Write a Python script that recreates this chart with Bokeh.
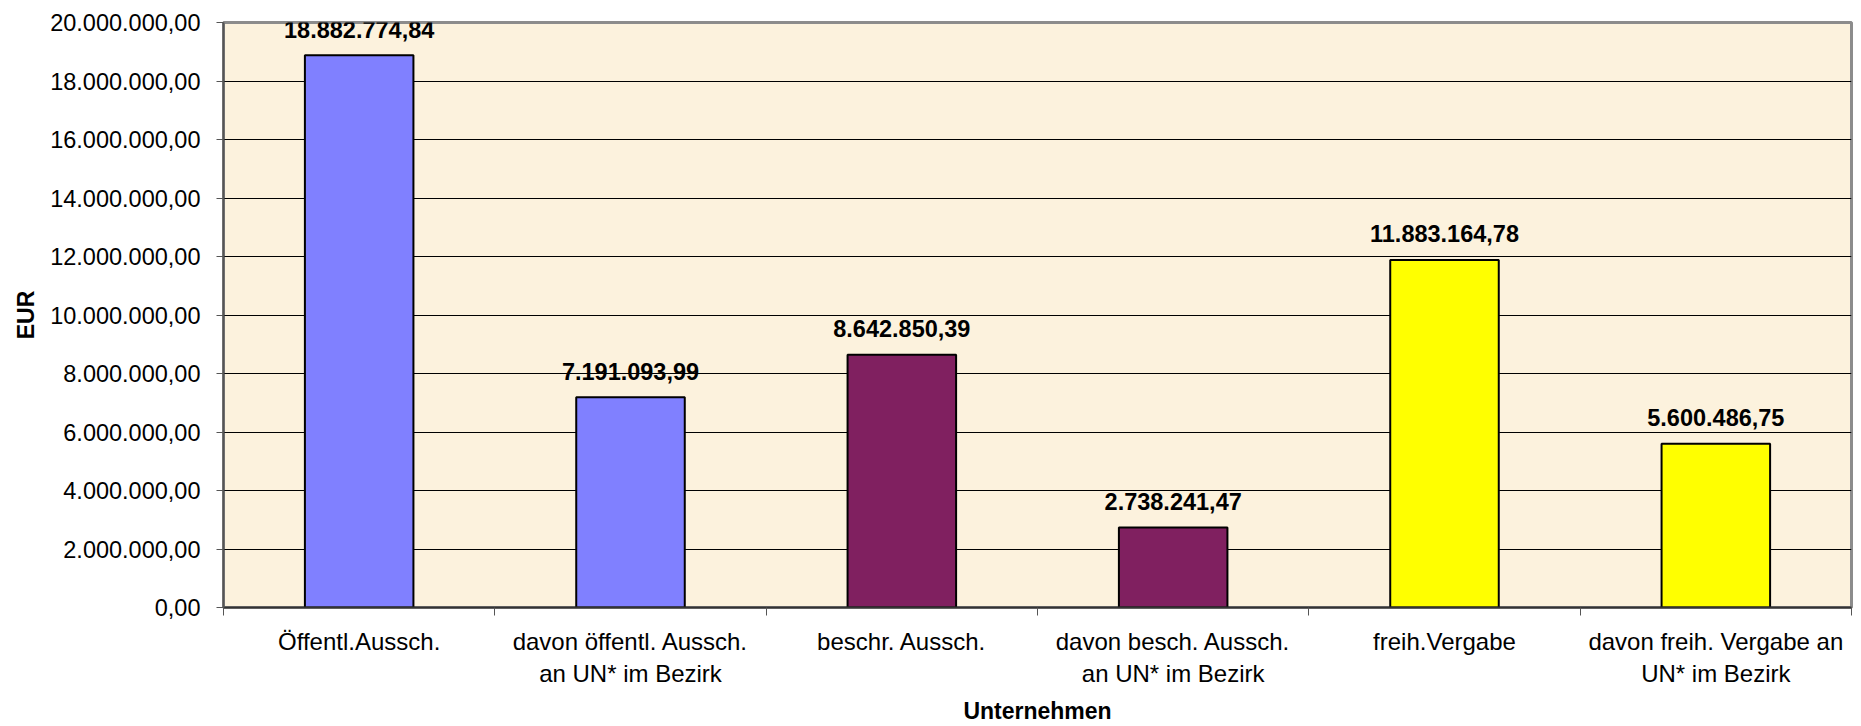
from bokeh.plotting import figure
from bokeh.models import FixedTicker, Range1d, ColumnDataSource
from bokeh.core.properties import value
from bokeh.embed import file_html
from bokeh.resources import INLINE

# ---- data ----
categories = [
    "Öffentl.Aussch.",
    "davon öffentl. Aussch.\nan UN* im Bezirk",
    "beschr. Aussch.",
    "davon besch. Aussch.\nan UN* im Bezirk",
    "freih.Vergabe",
    "davon freih. Vergabe an\nUN* im Bezirk",
]
amounts = [18882774.84, 7191093.99, 8642850.39, 2738241.47, 11883164.78, 5600486.75]
bar_colors = ["#8080FF", "#8080FF", "#802060", "#802060", "#FFFF00", "#FFFF00"]
y_tick_values = [0, 2000000, 4000000, 6000000, 8000000, 10000000,
                 12000000, 14000000, 16000000, 18000000, 20000000]
x_title = "Unternehmen"
y_title = "EUR"


def de_fmt(v):
    s = f"{v:,.2f}"
    return s.replace(",", "X").replace(".", ",").replace("X", ".")


FONT = "Liberation Sans"

xs = [i + 0.5 for i in range(len(categories))]
src = ColumnDataSource(dict(
    x=xs,
    top=amounts,
    color=bar_colors,
    label=[de_fmt(v) for v in amounts],
))

p = figure(
    width=1855, height=726,
    x_range=Range1d(0, len(categories)),
    y_range=Range1d(0, 20000000),
    output_backend="svg", toolbar_location=None,
    min_border_left=223, min_border_right=4,
    min_border_top=22, min_border_bottom=118,
    background_fill_color="#FCF2DD",
    border_fill_color="white",
    outline_line_color="#8c8c8c", outline_line_width=3,
)

p.vbar(x="x", top="top", bottom=0, width=0.4, source=src,
       fill_color="color", line_color="black", line_width=2)

p.text(x="x", y="top", text="label", source=src,
       text_align="center", text_baseline="middle", y_offset=-26,
       text_font=value(FONT), text_font_style="bold",
       text_font_size="23.5px", text_color="black")

# grid
p.xgrid.visible = False
p.ygrid.grid_line_color = "black"
p.ygrid.grid_line_width = 1

# y axis
ya = p.yaxis[0]
ya.ticker = FixedTicker(ticks=y_tick_values, minor_ticks=[])
ya.major_label_overrides = {v: de_fmt(v) for v in y_tick_values}
ya.major_label_text_font = FONT
ya.major_label_text_font_size = "23.5px"
ya.major_label_text_color = "black"
ya.major_tick_out = 7
ya.major_tick_in = 0
ya.major_tick_line_color = "#555555"
ya.major_label_standoff = 16
ya.axis_line_color = "#555555"
ya.axis_line_width = 2
ya.axis_label = y_title
ya.axis_label_text_font = FONT
ya.axis_label_text_font_style = "bold"
ya.axis_label_text_font_size = "23px"
ya.axis_label_text_color = "black"
ya.axis_label_standoff = 8

# x axis
xa = p.xaxis[0]
xa.ticker = FixedTicker(ticks=xs, minor_ticks=list(range(len(categories) + 1)))
xa.major_label_overrides = {x: c for x, c in zip(xs, categories)}
xa.major_label_text_font = FONT
xa.major_label_text_font_size = "24px"
xa.major_label_text_color = "black"
xa.major_tick_out = 0
xa.major_tick_in = 0
xa.minor_tick_out = 8
xa.minor_tick_in = 0
xa.minor_tick_line_color = "#555555"
xa.major_label_standoff = 12
xa.axis_line_color = "#333333"
xa.axis_line_width = 2
xa.axis_label = x_title
xa.axis_label_text_font = FONT
xa.axis_label_text_font_style = "bold"
xa.axis_label_text_font_size = "23px"
xa.axis_label_text_color = "black"
xa.axis_label_standoff = 8

open("out.html", "w").write(file_html(p, INLINE))
